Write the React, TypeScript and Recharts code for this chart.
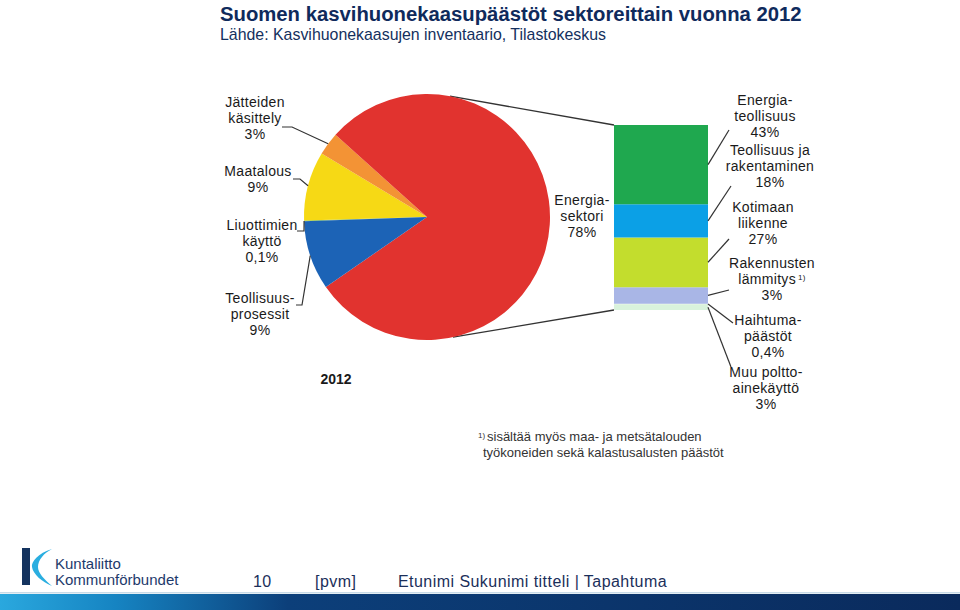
import React from 'react';
import { PieChart, Pie, Cell, BarChart, Bar, XAxis, YAxis } from 'recharts';

// Päästöt sektoreittain 2012 (%)
const sectorNames = ['Liuottimien käyttö', 'Maatalous', 'Jätteiden käsittely', 'Energiasektori', 'Teollisuusprosessit'];
const sectorValues = [0.1, 9, 3, 78, 9];
const sectorLabels = [
  ['Liuottimien', 'käyttö', '0,1%'],
  ['Maatalous', '9%'],
  ['Jätteiden', 'käsittely', '3%'],
  ['Energia-', 'sektori', '78%'],
  ['Teollisuus-', 'prosessit', '9%'],
];
const sectorColors = ['#7cc242', '#f6d915', '#f39335', '#e1332f', '#1c63b6'];

// Energiasektorin jakauma (%)
const energyNames = ['Energiateollisuus', 'Teollisuus ja rakentaminen', 'Kotimaan liikenne', 'Rakennusten lämmitys', 'Haihtumapäästöt', 'Muu polttoainekäyttö'];
const energyValues = [43, 18, 27, 9, 0.4, 3];
const energyLabels = [
  ['Energia-', 'teollisuus', '43%'],
  ['Teollisuus ja', 'rakentaminen', '18%'],
  ['Kotimaan', 'liikenne', '27%'],
  ['Rakennusten', 'lämmitys^1)', '3%'],
  ['Haihtuma-', 'päästöt', '0,4%'],
  ['Muu poltto-', 'ainekäyttö', '3%'],
];
const energyColors = ['#1fa84f', '#0ba0e6', '#c3dd2d', '#a9b6e6', '#d6efd6', '#d9f2dc'];

const footnote = ['sisältää myös maa- ja metsätalouden', 'työkoneiden sekä kalastusalusten päästöt'];

// layout
const W = 960;
const H = 610;
const PIE_CX = 427;
const PIE_CY = 217;
const PIE_R = 123;
const BAR_LEFT = 614;
const BAR_RIGHT = 708;
const BAR_TOP = 125;
const BAR_BOTTOM = 310;
const FONT = '"Liberation Sans", Arial, sans-serif';
const RAD = Math.PI / 180;
const NO_MARGIN = { top: 0, right: 0, bottom: 0, left: 0 };

// label text centre x, first baseline y, elbow points of the leader line
const pieLabelPos = [
  { tx: 262, ty: 230, line: [[297, 231], [304, 231]] },
  { tx: 258, ty: 176, line: [[293, 179], [300, 179]] },
  { tx: 255, ty: 107, line: [[282, 127], [292, 127]] },
  { tx: 582, ty: 205, line: [] },
  { tx: 260, ty: 303, line: [[296, 305], [302, 305]] },
];

const energyLabelPos = [
  { tx: 765, ty: 105, ex: 729, ey: 130 },
  { tx: 770, ty: 155, ex: 731, ey: 186 },
  { tx: 763, ty: 212, ex: 729, ey: 239 },
  { tx: 772, ty: 268, ex: 729, ey: 290 },
  { tx: 768, ty: 325, ex: 733, ey: 323 },
  { tx: 766, ty: 377, ex: 731, ey: 367 },
];

const pieData = sectorNames.map((name, i) => ({ name, value: sectorValues[i] }));
const energyRow: Record<string, string | number> = { name: 'Energiasektori' };
energyNames.forEach((_, i) => {
  energyRow['e' + i] = energyValues[i];
});
const energyTotal = energyValues.reduce((a, b) => a + b, 0);

function TextBlock({ x, y, lines }: { x: number; y: number; lines: string[] }) {
  return (
    <text x={x} y={y} textAnchor="middle" fontFamily={FONT} fontSize={14} letterSpacing={0.3} fill="#1a1a1a">
      {lines.map((l, k) => {
        const [main, sup] = l.split('^');
        return (
          <tspan key={k} x={x} dy={k === 0 ? 0 : 16}>
            {main}
            {sup && (
              <tspan fontSize={8} dx={2} baselineShift="super">
                {sup}
              </tspan>
            )}
          </tspan>
        );
      })}
    </text>
  );
}

function renderPieLabel(props: any) {
  const { cx, cy, midAngle, outerRadius, index } = props;
  const pos = pieLabelPos[index];
  const px = cx + outerRadius * Math.cos(-midAngle * RAD);
  const py = cy + outerRadius * Math.sin(-midAngle * RAD);
  const pts = pos.line.length ? [...pos.line, [px, py]] : [];
  return (
    <g key={'pl' + index}>
      {pts.length > 0 && (
        <polyline points={pts.map((p) => p.join(',')).join(' ')} fill="none" stroke="#333" strokeWidth={1.2} />
      )}
      <TextBlock x={pos.tx} y={pos.ty} lines={sectorLabels[index]} />
    </g>
  );
}

function makeEnergyLabel(i: number) {
  return (props: any) => {
    const vb = props.viewBox || props;
    const x = Number(vb.x ?? props.x);
    const y = Number(vb.y ?? props.y);
    const w = Number(vb.width ?? props.width);
    const h = Number(vb.height ?? props.height);
    const pos = energyLabelPos[i];
    const sx = x + w;
    const sy = y + h / 2;
    return (
      <g key={'el' + i}>
        <line x1={sx} y1={sy} x2={pos.ex} y2={pos.ey} stroke="#333" strokeWidth={1.2} />
        <TextBlock x={pos.tx} y={pos.ty} lines={energyLabels[i]} />
      </g>
    );
  };
}

function Logo() {
  return (
    <g>
      <rect x={22} y={548} width={8} height={37} fill="#14335f" />
      <path d="M52,549 C38,553 31,562 32,567 C33,574 42,582 52,586 C44,579 38,573 38,567 C38,560 44,553 52,549 Z" fill="#2aaee0" />
      <text x={55} y={569} fontFamily={FONT} fontSize={15} fill="#1d3a6b">Kuntaliitto</text>
      <text x={55} y={585} fontFamily={FONT} fontSize={15} fill="#1d3a6b">Kommunförbundet</text>
    </g>
  );
}

export default function App() {
  const topAngle = Math.acos((450 - PIE_CX) / PIE_R);
  const botAngle = Math.acos((453 - PIE_CX) / PIE_R);
  const topX = PIE_CX + PIE_R * Math.cos(topAngle);
  const topY = PIE_CY - PIE_R * Math.sin(topAngle);
  const botX = PIE_CX + PIE_R * Math.cos(botAngle);
  const botY = PIE_CY + PIE_R * Math.sin(botAngle);

  return (
    <div style={{ position: 'fixed', left: 0, top: 0, width: W, height: H, background: '#fff', overflow: 'hidden' }}>
      <svg width={W} height={H} style={{ position: 'absolute', left: 0, top: 0 }}>
        <text x={220} y={21} fontFamily={FONT} fontSize={20.3} fontWeight="bold" fill="#0f2a5c">
          Suomen kasvihuonekaasupäästöt sektoreittain vuonna 2012
        </text>
        <text x={220} y={40} fontFamily={FONT} fontSize={15.9} fill="#14305e">
          Lähde: Kasvihuonekaasujen inventaario, Tilastokeskus
        </text>
        <line x1={topX} y1={topY} x2={BAR_LEFT} y2={BAR_TOP} stroke="#333" strokeWidth={1.3} />
        <line x1={botX} y1={botY} x2={BAR_LEFT} y2={BAR_BOTTOM} stroke="#333" strokeWidth={1.3} />
        <text x={336} y={384} textAnchor="middle" fontFamily={FONT} fontSize={14} fontWeight="bold" fill="#1a1a1a">
          2012
        </text>
        <text x={478} y={438} fontFamily={FONT} fontSize={8} fill="#333">1)</text>
        <text x={487} y={441} fontFamily={FONT} fontSize={13} fill="#333">{footnote[0]}</text>
        <text x={483} y={457} fontFamily={FONT} fontSize={13} fill="#333">{footnote[1]}</text>
        <Logo />
        <g fontFamily={FONT} fontSize={16} letterSpacing={0.45} fill="#1b2f5a">
          <text x={253} y={587}>10</text>
          <text x={315} y={587}>[pvm]</text>
          <text x={398} y={587}>Etunimi Sukunimi titteli | Tapahtuma</text>
        </g>
        <defs>
          <linearGradient id="footer" x1="0" x2="1" y1="0" y2="0">
            <stop offset="0%" stopColor="#2aa8de" />
            <stop offset="12%" stopColor="#1684c2" />
            <stop offset="30%" stopColor="#0c3f7a" />
            <stop offset="100%" stopColor="#0a2a5c" />
          </linearGradient>
        </defs>
        <rect x={0} y={592} width={W} height={1.5} fill="#c8dbe8" />
        <rect x={0} y={594} width={W} height={16} fill="url(#footer)" />
      </svg>

      <div style={{ position: 'absolute', left: 0, top: 0 }}>
        <PieChart width={W} height={H} margin={NO_MARGIN}>
          <Pie
            data={pieData}
            dataKey="value"
            nameKey="name"
            cx={PIE_CX}
            cy={PIE_CY}
            outerRadius={PIE_R}
            startAngle={182}
            endAngle={-178}
            stroke="none"
            label={renderPieLabel}
            labelLine={false}
            isAnimationActive={false}
          >
            {pieData.map((d, i) => (
              <Cell key={d.name} fill={sectorColors[i]} />
            ))}
          </Pie>
        </PieChart>
      </div>

      <div style={{ position: 'absolute', left: 0, top: 0 }}>
        <BarChart
          width={W}
          height={H}
          data={[energyRow]}
          barCategoryGap={0}
          margin={{ top: BAR_TOP, bottom: H - BAR_BOTTOM, left: BAR_LEFT, right: W - BAR_RIGHT }}
        >
          <XAxis dataKey="name" hide />
          <YAxis hide domain={[0, energyTotal]} />
          {energyNames
            .map((n, i) => (
              <Bar
                key={n}
                dataKey={'e' + i}
                name={n}
                stackId="energy"
                fill={energyColors[i]}
                label={makeEnergyLabel(i)}
                isAnimationActive={false}
              />
            ))
            .reverse()}
        </BarChart>
      </div>
    </div>
  );
}
